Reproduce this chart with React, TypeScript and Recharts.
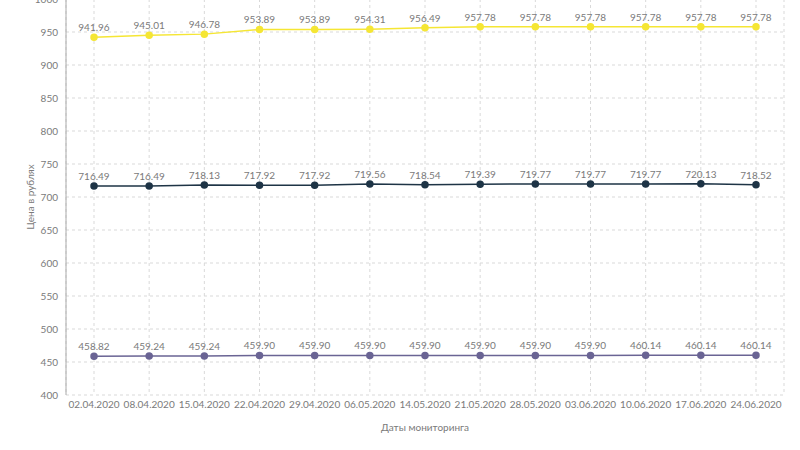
import React from 'react';
import { LineChart, Line, XAxis, YAxis, CartesianGrid, LabelList, Legend } from 'recharts';

const dates = ['02.04.2020','08.04.2020','15.04.2020','22.04.2020','29.04.2020','06.05.2020','14.05.2020','21.05.2020','28.05.2020','03.06.2020','10.06.2020','17.06.2020','24.06.2020'];
const maxPrices = [941.96,945.01,946.78,953.89,953.89,954.31,956.49,957.78,957.78,957.78,957.78,957.78,957.78];
const avgPrices = [716.49,716.49,718.13,717.92,717.92,719.56,718.54,719.39,719.77,719.77,719.77,720.13,718.52];
const minPrices = [458.82,459.24,459.24,459.90,459.90,459.90,459.90,459.90,459.90,459.90,460.14,460.14,460.14];
const yTicks = [400,450,500,550,600,650,700,750,800,850,900,950,1000];
const seriesNames = ['Максимальная цена','Средняя цена','Минимальная цена'];

const data = dates.map((d, i) => ({ date: d, max: maxPrices[i], avg: avgPrices[i], min: minPrices[i] }));

const FONT = 'Lato, "Open Sans", sans-serif';
const TXT = '#7a7a7a';

const fmt = (v: any) => Number(v).toFixed(2);

export default function App() {
  return (
    <div style={{ position: 'absolute', left: 0, top: -30, width: 800, height: 500, fontFamily: FONT }}>
      <LineChart width={800} height={500} data={data} margin={{ top: 29, right: 16, bottom: 39, left: 0 }}>
        <CartesianGrid stroke="#d9d9d9" strokeDasharray="3 3" />
        <XAxis
          dataKey="date"
          height={36}
          padding={{ left: 28, right: 28 }}
          axisLine={false}
          tickLine={false}
          tickSize={6}
          tickMargin={0}
          interval={0}
          tick={{ fontSize: 10, fill: TXT, fontFamily: FONT }}
          label={{ value: 'Даты мониторинга', position: 'insideBottom', offset: 0, fontSize: 10, fill: TXT, fontFamily: FONT }}
        />
        <YAxis
          width={66}
          domain={[400, 1000]}
          ticks={yTicks}
          interval={0}
          axisLine={{ stroke: '#aaaaaa' }}
          tickLine={false}
          tick={{ fontSize: 10, fill: TXT, fontFamily: FONT }}
          label={{ value: 'Цена в рублях', angle: -90, position: 'center', dx: -3, fontSize: 10, fill: TXT, fontFamily: FONT }}
        />
        <Legend
          layout="horizontal"
          verticalAlign="middle"
          align="center"
          wrapperStyle={{ top: 478, left: 0, width: 800, fontSize: 10, fontFamily: FONT, color: TXT }}
          iconSize={8}
        />
        <Line name={seriesNames[0]} type="linear" dataKey="max" stroke="#f5e634" strokeWidth={1.5} dot={{ r: 3, fill: '#f5e634', stroke: '#f5e634' }} isAnimationActive={false}>
          <LabelList dataKey="max" position="top" offset={6} formatter={fmt} style={{ fontSize: 10, fill: TXT, fontFamily: FONT }} />
        </Line>
        <Line name={seriesNames[1]} type="linear" dataKey="avg" stroke="#1e3446" strokeWidth={1.5} dot={{ r: 3, fill: '#1e3446', stroke: '#1e3446' }} isAnimationActive={false}>
          <LabelList dataKey="avg" position="top" offset={6} formatter={fmt} style={{ fontSize: 10, fill: TXT, fontFamily: FONT }} />
        </Line>
        <Line name={seriesNames[2]} type="linear" dataKey="min" stroke="#6a6494" strokeWidth={1.5} dot={{ r: 3, fill: '#6a6494', stroke: '#6a6494' }} isAnimationActive={false}>
          <LabelList dataKey="min" position="top" offset={6} formatter={fmt} style={{ fontSize: 10, fill: TXT, fontFamily: FONT }} />
        </Line>
      </LineChart>
    </div>
  );
}
